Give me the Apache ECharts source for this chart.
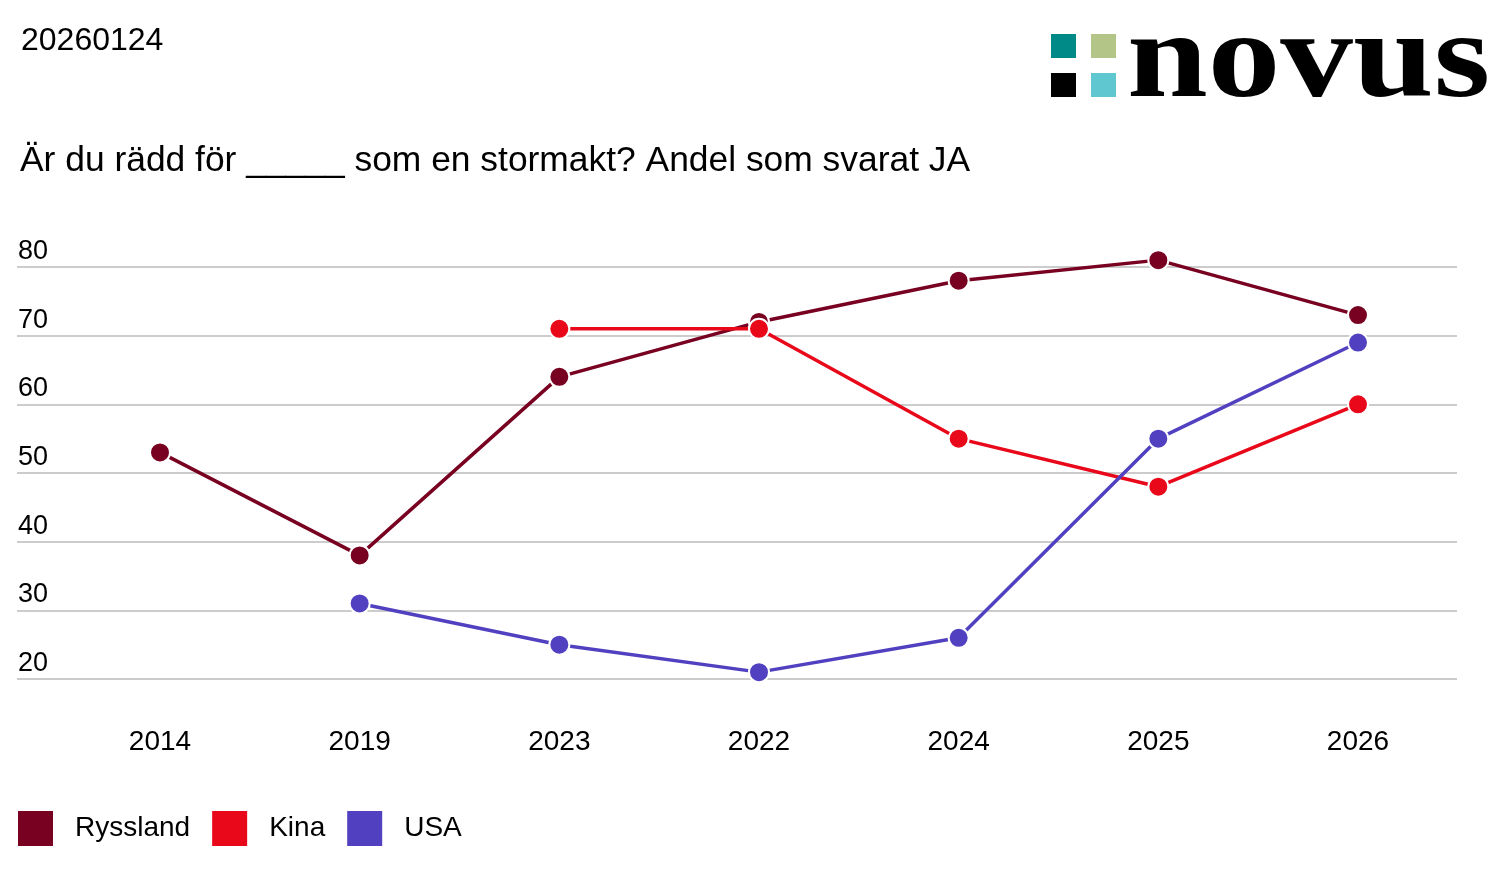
<!DOCTYPE html>
<html><head><meta charset="utf-8">
<script src="https://cdn.jsdelivr.net/npm/echarts@6/dist/echarts.min.js"></script>
<style>html,body{margin:0;padding:0;background:#fff}#c{width:1506px;height:876px}</style>
</head><body><div id="c"></div>
<script>
const categories = ['2014','2019','2023','2022','2024','2025','2026'];
const ryssland = [53, 38, 64, 72, 78, 81, 73];
const kina = [null, null, 71, 71, 55, 48, 60];
const usa = [null, 31, 25, 21, 26, 55, 69];
const seriesNames = ['Ryssland','Kina','USA'];
const colors = ['#780020','#e8081a','#5140c0'];
const yTicks = {min: 20, max: 80, interval: 10};
const dateText = '20260124';
const titleText = 'Är du rädd för _____ som en stormakt? Andel som svarat JA';

const font = 'Arial, "Liberation Sans", sans-serif';
const chart = echarts.init(document.getElementById('c'));
function mk(name, data, color) {
  return {
    name, type: 'line', data, xAxisIndex: 0, yAxisIndex: 0,
    connectNulls: false, symbol: 'circle', symbolSize: 20, clip: false,
    lineStyle: {color, width: 3.5},
    itemStyle: {color, borderColor: '#fff', borderWidth: 2},
    emphasis: {disabled: true}, animation: false, z: 3
  };
}
chart.setOption({
  animation: false,
  textStyle: {fontFamily: font},
  grid: [
    {left: 160, right: 148, top: 267, bottom: 197},
    {left: 17, right: 49, top: 267, bottom: 197}
  ],
  xAxis: [
    {type: 'category', gridIndex: 0, data: categories, boundaryGap: false,
     axisLine: {show: false}, axisTick: {show: false}, splitLine: {show: false},
     axisLabel: {color: '#000', fontSize: 28, margin: 49, fontFamily: font}},
    {type: 'category', gridIndex: 1, data: categories, show: false}
  ],
  yAxis: [
    {type: 'value', gridIndex: 0, min: yTicks.min, max: yTicks.max, interval: yTicks.interval, show: false},
    {type: 'value', gridIndex: 1, min: yTicks.min, max: yTicks.max, interval: yTicks.interval,
     axisLine: {show: false}, axisTick: {show: false},
     splitLine: {lineStyle: {color: '#cccccc', width: 2}},
     axisLabel: {inside: true, margin: 1, color: '#000', fontSize: 27, fontFamily: font,
       align: 'left', verticalAlign: 'bottom', padding: [0,0,2,0]}}
  ],
  legend: {
    left: 16, top: 809, padding: 0, itemWidth: 37, itemHeight: 37, itemGap: 20, icon: 'rect',
    data: seriesNames,
    textStyle: {fontSize: 28, color: '#000', fontFamily: font, padding: [0,0,0,16]}
  },
  series: [
    mk(seriesNames[0], ryssland, colors[0]),
    mk(seriesNames[1], kina, colors[1]),
    mk(seriesNames[2], usa, colors[2])
  ],
  graphic: [
    {type: 'text', left: 21, top: 25, style: {text: dateText, fill: '#000', font: '32px ' + font}},
    {type: 'text', left: 20, top: 144, style: {text: titleText, fill: '#000', font: '35.4px ' + font}},
    {type: 'rect', shape: {x: 1051, y: 34, width: 25, height: 24}, style: {fill: '#008a87'}},
    {type: 'rect', shape: {x: 1091, y: 34, width: 25, height: 24}, style: {fill: '#b3c687'}},
    {type: 'rect', shape: {x: 1051, y: 73, width: 25, height: 24}, style: {fill: '#000000'}},
    {type: 'rect', shape: {x: 1091, y: 73, width: 25, height: 24}, style: {fill: '#5ec7d0'}},
    {type: 'text', x: 1127, y: 3, scaleX: 1.19, scaleY: 1,
     style: {x: 0, y: 0, text: 'novus', fill: '#000', font: 'bold 122px "Liberation Serif", "DejaVu Serif", serif'}}
  ]
});
</script></body></html>
